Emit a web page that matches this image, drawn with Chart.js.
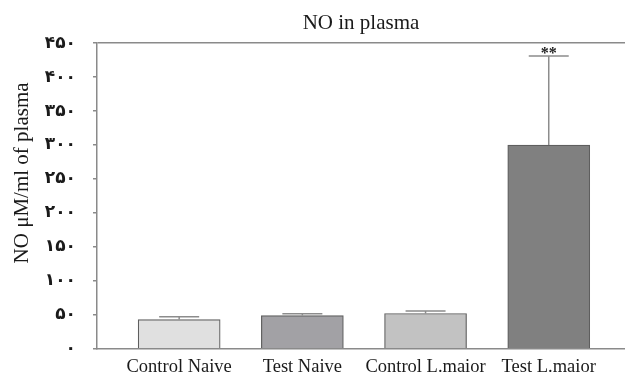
<!DOCTYPE html>
<html>
<head>
    <meta charset="utf-8">
    <script src="https://cdn.jsdelivr.net/npm/chart.js@4.4.0/dist/chart.umd.min.js"></script>
    <style>
        html, body { margin: 0; padding: 0; background: #fff; overflow: hidden; }
        #chart-container { width: 625px; height: 376px; position: relative; }
    </style>
</head>
<body>
    <div id="chart-container">
        <canvas id="noChart"></canvas>
    </div>
    <script>
        // data
        const categories = ['Control Naive', 'Test Naive', 'Control L.maior', 'Test L.maior'];
        const noValues = [43, 49, 52, 300];
        const noErrors = [4.3, 2.5, 3.5, 131];
        const marks = ['', '', '', '**'];
        const yTicks = [0, 50, 100, 150, 200, 250, 300, 350, 400, 450];
        const yTickLabels = ['۰', '۵۰', '۱۰۰', '۱۵۰', '۲۰۰', '۲۵۰', '۳۰۰', '۳۵۰', '۴۰۰', '۴۵۰'];
        const barColors = ['#e0e0e0', '#a2a1a5', '#c2c2c2', '#808080'];
        const yTitle = 'NO μM/ml of plasma';

        const axisGray = '#8a8a8a';
        const serif = '"Liberation Serif", "DejaVu Serif", serif';

        // upper error bars + significance marks
        const errorBars = {
            id: 'errorBars',
            afterDatasetsDraw(chart) {
                const ctx = chart.ctx;
                const y = chart.scales.y;
                const meta = chart.getDatasetMeta(0);
                ctx.save();
                meta.data.forEach((bar, i) => {
                    const top = y.getPixelForValue(noValues[i] + noErrors[i]);
                    ctx.strokeStyle = '#8c8c8c';
                    ctx.lineWidth = 1.5;
                    ctx.beginPath();
                    ctx.moveTo(bar.x, bar.y);
                    ctx.lineTo(bar.x, top);
                    ctx.moveTo(bar.x - 20, top);
                    ctx.lineTo(bar.x + 20, top);
                    ctx.stroke();
                    if (marks[i]) {
                        ctx.fillStyle = '#222';
                        ctx.font = 'bold 16px ' + serif;
                        ctx.textAlign = 'center';
                        ctx.textBaseline = 'alphabetic';
                        ctx.fillText(marks[i], bar.x, top + 2);
                    }
                });
                ctx.restore();
            }
        };

        // y axis title, sits a bit above the middle of the axis in the original
        const yAxisTitle = {
            id: 'yAxisTitle',
            afterDraw(chart) {
                const ctx = chart.ctx;
                const y = chart.scales.y;
                ctx.save();
                ctx.translate(22, y.getPixelForValue(259));
                ctx.rotate(-Math.PI / 2);
                ctx.fillStyle = '#1a1a1a';
                ctx.font = '21px ' + serif;
                ctx.textAlign = 'center';
                ctx.textBaseline = 'middle';
                ctx.fillText(yTitle, 0, 0);
                ctx.restore();
            }
        };

        new Chart(document.getElementById('noChart'), {
            type: 'bar',
            data: {
                datasets: [{
                    data: noValues.map((v, i) => ({ x: i, y: v })),
                    backgroundColor: barColors,
                    borderColor: '#5e5e5e',
                    borderWidth: 1.2,
                    barThickness: 82
                }]
            },
            options: {
                responsive: true,
                maintainAspectRatio: false,
                animation: false,
                layout: { padding: 0 },
                plugins: {
                    legend: { display: false },
                    tooltip: { enabled: false },
                    title: {
                        display: true,
                        fullSize: false,
                        text: 'NO in plasma',
                        color: '#1a1a1a',
                        font: { family: serif, size: 21, weight: 'normal', lineHeight: 1.2 },
                        padding: { top: 11, bottom: 7 },
                        align: 'center'
                    }
                },
                scales: {
                    x: {
                        type: 'linear',
                        offset: false,
                        min: -0.667,
                        max: 3.619,
                        afterBuildTicks: (scale) => {
                            scale.ticks = categories.map((c, i) => ({ value: i }));
                        },
                        afterFit: (scale) => { scale.height = 26; },
                        grid: { display: false, drawTicks: false, offset: false },
                        border: { display: true, color: axisGray, width: 1.5 },
                        ticks: {
                            autoSkip: false,
                            maxRotation: 0,
                            padding: 7,
                            color: '#1a1a1a',
                            font: { family: serif, size: 18.5 },
                            callback: (v) => categories[v]
                        }
                    },
                    y: {
                        min: 0,
                        max: 450,
                        afterBuildTicks: (scale) => {
                            scale.ticks = yTicks.map(v => ({ value: v }));
                        },
                        afterFit: (scale) => { scale.width = 97; },
                        grid: {
                            color: (c) => c.tick && c.tick.value === 450 ? axisGray : 'rgba(0,0,0,0)',
                            tickColor: axisGray,
                            tickLength: 4,
                            lineWidth: 1.5
                        },
                        border: { display: true, color: axisGray, width: 1.5 },
                        ticks: {
                            padding: 17,
                            color: '#1a1a1a',
                            font: { family: '"DejaVu Sans", sans-serif', size: 17, weight: 'bold' },
                            callback: (v, i) => yTickLabels[yTicks.indexOf(v)]
                        },
                        title: { display: false }
                    }
                }
            },
            plugins: [errorBars, yAxisTitle]
        });
    </script>
</body>
</html>
